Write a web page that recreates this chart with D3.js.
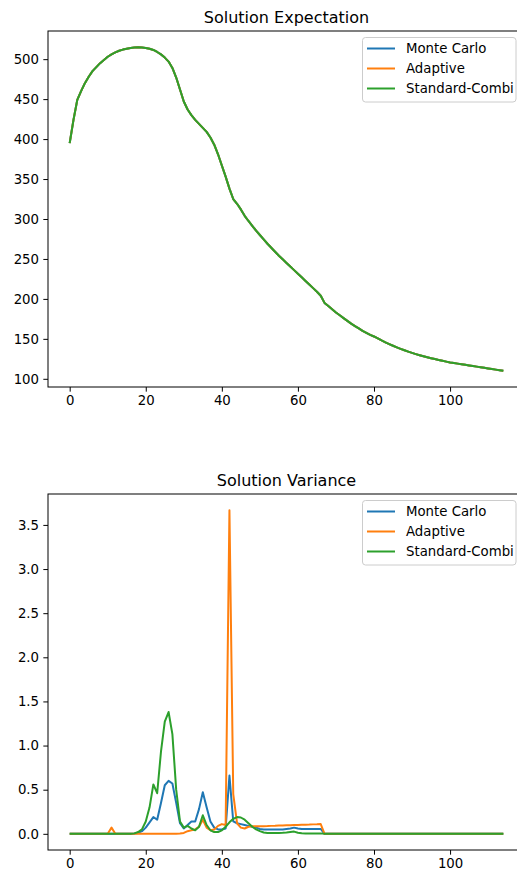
<!DOCTYPE html>
<html>
<head>
<meta charset="utf-8">
<script src="https://cdn.jsdelivr.net/npm/d3@7"></script>
<style>
  body { margin: 0; background: #fff; }
  svg { display: block; font-family: "DejaVu Sans", sans-serif; }
</style>
</head>
<body>
<div id="vis"></div>
<script>
// --- data (x = step index 0..114) ---
const seriesNames = ["Monte Carlo", "Adaptive", "Standard-Combi"];
const seriesColors = ["#1f77b4", "#ff7f0e", "#2ca02c"];

// expectation: the three methods agree to within a pixel
const meanValues = [
  395, 424, 449, 460, 470, 478, 485, 490, 495, 499,
  503, 506, 508.5, 510.5, 512, 513, 514, 514.5, 515, 514.5,
  514, 513, 511.5, 509, 506, 502, 497, 489, 477, 462,
  447, 437, 430, 424, 419, 414, 409, 402, 393, 381,
  367, 353, 338, 325, 319, 312, 304, 297.5, 291.5, 285.5,
  280, 274.5, 269, 264, 259, 254, 249.5, 245, 240.5, 236,
  231.5, 227, 222.5, 218, 213.5, 209, 204, 195, 191, 187,
  183, 179.5, 176, 172.5, 169, 166, 163, 160, 157.5, 155,
  153, 150.5, 148, 145.7, 143.5, 141.4, 139.4, 137.5, 135.7, 134,
  132.4, 130.9, 129.5, 128.2, 127, 125.8, 124.7, 123.6, 122.5, 121.5,
  120.5, 119.75, 119, 118.25, 117.5, 116.75, 116, 115.25, 114.5, 113.75,
  113, 112.25, 111.5, 110.75, 110
];

const varMonteCarlo = [
  0, 0, 0, 0, 0, 0, 0, 0, 0, 0,
  0, 0, 0, 0, 0, 0, 0, 0.003, 0.01, 0.03,
  0.07, 0.13, 0.19, 0.16, 0.35, 0.55, 0.6, 0.57, 0.35, 0.12,
  0.06, 0.1, 0.14, 0.14, 0.28, 0.47, 0.3, 0.14, 0.07, 0.05,
  0.05, 0.06, 0.66, 0.14, 0.12, 0.11, 0.1, 0.09, 0.08, 0.07,
  0.055, 0.05, 0.05, 0.05, 0.05, 0.05, 0.05, 0.055, 0.06, 0.07,
  0.06, 0.055, 0.055, 0.055, 0.055, 0.055, 0.055, 0, 0, 0,
  0, 0, 0, 0, 0, 0, 0, 0, 0, 0,
  0, 0, 0, 0, 0, 0, 0, 0, 0, 0,
  0, 0, 0, 0, 0, 0, 0, 0, 0, 0,
  0, 0, 0, 0, 0, 0, 0, 0, 0, 0,
  0, 0, 0, 0, 0
];

const varAdaptive = [
  0, 0, 0, 0, 0, 0, 0, 0, 0, 0,
  0, 0.07, 0, 0, 0, 0, 0, 0, 0, 0,
  0, 0, 0, 0, 0, 0, 0, 0, 0, 0.003,
  0.01, 0.03, 0.04, 0.05, 0.08, 0.16, 0.07, 0.04, 0.05, 0.09,
  0.11, 0.1, 3.667, 0.45, 0.12, 0.07, 0.06, 0.08, 0.085, 0.085,
  0.085, 0.087, 0.088, 0.09, 0.091, 0.093, 0.094, 0.096, 0.097, 0.099,
  0.1, 0.102, 0.104, 0.105, 0.107, 0.108, 0.11, 0, 0, 0,
  0, 0, 0, 0, 0, 0, 0, 0, 0, 0,
  0, 0, 0, 0, 0, 0, 0, 0, 0, 0,
  0, 0, 0, 0, 0, 0, 0, 0, 0, 0,
  0, 0, 0, 0, 0, 0, 0, 0, 0, 0,
  0, 0, 0, 0, 0
];

const varCombi = [
  0, 0, 0, 0, 0, 0, 0, 0, 0, 0,
  0, 0, 0, 0, 0, 0, 0, 0.005, 0.02, 0.05,
  0.14, 0.3, 0.56, 0.46, 0.93, 1.27, 1.38, 1.13, 0.5, 0.14,
  0.07, 0.09, 0.06, 0.04, 0.08, 0.21, 0.1, 0.04, 0.02, 0.02,
  0.04, 0.08, 0.13, 0.17, 0.19, 0.185, 0.16, 0.12, 0.08, 0.05,
  0.03, 0.015, 0.01, 0.01, 0.01, 0.01, 0.012, 0.015, 0.02, 0.025,
  0.012, 0.006, 0.005, 0.005, 0.005, 0.005, 0.005, 0, 0, 0,
  0, 0, 0, 0, 0, 0, 0, 0, 0, 0,
  0, 0, 0, 0, 0, 0, 0, 0, 0, 0,
  0, 0, 0, 0, 0, 0, 0, 0, 0, 0,
  0, 0, 0, 0, 0, 0, 0, 0, 0, 0,
  0, 0, 0, 0, 0
];

const xTicks = [0, 20, 40, 60, 80, 100];
const meanTicks = [100, 150, 200, 250, 300, 350, 400, 450, 500];
const varTicks = [0, 0.5, 1.0, 1.5, 2.0, 2.5, 3.0, 3.5];

// --- layout ---
var W = 517, H = 875;
var plotLeft = 48, plotWidth = 477, plotHeight = 356;
var tickLen = 4.67, fontTick = 13.3;

var svg = d3.select("#vis")
  .append("svg")
  .attr("width", W)
  .attr("height", H)
  .style("overflow", "hidden");

// matplotlib style 5% margins
function padded(ext) {
  var d = (ext[1] - ext[0]) * 0.05;
  return [ext[0] - d, ext[1] + d];
}

function drawPanel(top, title, series, yTicks, yFormat) {
  var g = svg.append("g").attr("transform", "translate(" + plotLeft + "," + top + ")");
  var n = series[0].length;

  var x = d3.scaleLinear().domain(padded([0, n - 1])).range([0, plotWidth]);
  var y = d3.scaleLinear()
    .domain(padded(d3.extent(series.flat())))
    .range([plotHeight, 0]);

  var xAxis = g.append("g")
    .attr("transform", "translate(0," + plotHeight + ")")
    .call(d3.axisBottom(x).tickValues(xTicks).tickSize(tickLen).tickSizeOuter(0).tickPadding(4.3));
  var yAxis = g.append("g")
    .call(d3.axisLeft(y).tickValues(yTicks).tickFormat(yFormat).tickSize(tickLen).tickSizeOuter(0).tickPadding(4.3));

  [xAxis, yAxis].forEach(function (a) {
    a.select(".domain").remove();
    a.selectAll("line").attr("stroke", "#000").attr("stroke-width", 1);
    a.selectAll("text").attr("fill", "#000").style("font-size", fontTick + "px")
      .style("font-family", "'DejaVu Sans', sans-serif");
  });

  var line = d3.line().x((d, i) => x(i)).y(d => y(d));
  series.forEach(function (vals, k) {
    g.append("path")
      .datum(vals)
      .attr("d", line)
      .attr("fill", "none")
      .attr("stroke", seriesColors[k])
      .attr("stroke-width", 2)
      .attr("stroke-linejoin", "round");
  });

  // spines
  g.append("rect")
    .attr("x", 0).attr("y", 0)
    .attr("width", plotWidth).attr("height", plotHeight)
    .attr("fill", "none").attr("stroke", "#000").attr("stroke-width", 1);

  g.append("text")
    .attr("x", plotWidth / 2).attr("y", -8)
    .attr("text-anchor", "middle")
    .style("font-size", "16px")
    .text(title);

  // legend, upper right
  var lg = g.append("g").attr("transform", "translate(314.5,6.5)");
  lg.append("rect")
    .attr("width", 153.5).attr("height", 64.5).attr("rx", 3)
    .attr("fill", "#fff").attr("fill-opacity", 0.8)
    .attr("stroke", "#cccccc").attr("stroke-width", 1);
  seriesNames.forEach(function (name, k) {
    var cy = 11 + k * 20;
    lg.append("line")
      .attr("x1", 4.5).attr("x2", 32.5).attr("y1", cy).attr("y2", cy)
      .attr("stroke", seriesColors[k]).attr("stroke-width", 2);
    lg.append("text")
      .attr("x", 43.5).attr("y", cy + 4.8)
      .style("font-size", fontTick + "px")
      .text(name);
  });
}

drawPanel(31, "Solution Expectation", [meanValues, meanValues, meanValues], meanTicks, d3.format("d"));
drawPanel(494, "Solution Variance", [varMonteCarlo, varAdaptive, varCombi], varTicks, d3.format(".1f"));
</script>
</body>
</html>
